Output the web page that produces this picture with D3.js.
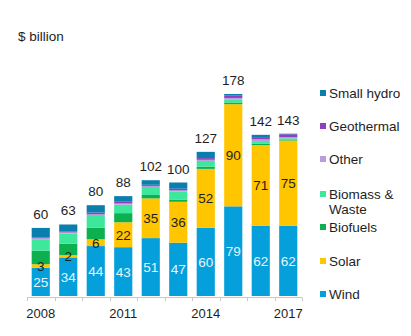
<!DOCTYPE html>
<html>
<head>
<meta charset="utf-8">
<script src="https://cdn.jsdelivr.net/npm/d3@7"></script>
<style>
  body { margin: 0; background: #fff; }
  text { font-family: "Liberation Sans", Arial, sans-serif; fill: #1e1e1e; }
</style>
</head>
<body>
<div class="chart"></div>
<script>
const width = 411;
const height = 336;

const years = ["2008", "2009", "2010", "2011", "2012", "2013", "2014", "2015", "2016", "2017"];
const tickYears = ["2008", "2011", "2014", "2017"];

// $bn per year, bottom of the stack first
const wind       = [25, 34, 44, 43, 51, 47, 60, 79, 62, 62];
const solar      = [3, 2, 6, 22, 35, 36, 52, 90, 71, 75];
const biofuels   = [12, 10, 10, 8, 3, 2, 2, 1.5, 1, 0.5];
const biomass    = [10, 9, 10.5, 7.5, 7, 7, 5, 2.5, 2.5, 1.5];
const other      = [1, 1, 1.5, 1, 1, 1, 1, 1.5, 1.5, 1];
const geothermal = [0.5, 1, 1.5, 2, 1, 1.5, 1.5, 2, 2, 2.5];
const smallHydro = [8.5, 6, 6.5, 4.5, 4, 5.5, 5.5, 1.5, 2, 0.5];
const totals     = [60, 63, 80, 88, 102, 100, 127, 178, 142, 143];

const keys = ["Wind", "Solar", "Biofuels", "Biomass & Waste", "Other", "Geothermal", "Small hydro"];
const series = [wind, solar, biofuels, biomass, other, geothermal, smallHydro];
const colors = ["#059fdc", "#ffc600", "#0cb04f", "#3de89c", "#b79ddc", "#8f3fbf", "#0a7ead"];

const rows = years.map((y, i) => {
  const row = { year: y };
  keys.forEach((k, j) => (row[k] = series[j][i]));
  return row;
});

const svg = d3
  .select(".chart")
  .append("svg")
  .attr("width", width)
  .attr("height", height);

const x = d3.scaleBand().domain(years).range([27, 302]).paddingInner(0.34).paddingOuter(0.17);
const y = d3.scaleLinear().domain([0, 200]).range([296, 69]);
const color = d3.scaleOrdinal().domain(keys).range(colors);

const stacked = d3.stack().keys(keys)(rows);

svg
  .append("text")
  .attr("x", 18)
  .attr("y", 41)
  .style("font-size", "13.5px")
  .text("$ billion");

// stacked bars
svg
  .selectAll("g.layer")
  .data(stacked)
  .enter()
  .append("g")
  .attr("class", "layer")
  .attr("fill", (d) => color(d.key))
  .selectAll("rect")
  .data((d) => d)
  .enter()
  .append("rect")
  .attr("x", (d) => x(d.data.year))
  .attr("width", x.bandwidth())
  .attr("y", (d) => y(d[1]))
  .attr("height", (d) => y(d[0]) - y(d[1]));

// wind values (white) and solar values (dark) inside the bars
svg
  .selectAll("text.wind")
  .data(stacked[0])
  .enter()
  .append("text")
  .attr("x", (d) => x(d.data.year) + x.bandwidth() / 2)
  .attr("y", (d) => (y(d[0]) + y(d[1])) / 2 + 5)
  .attr("text-anchor", "middle")
  .style("font-size", "13.5px")
  .style("fill", "#e8f6fc")
  .text((d) => d.data["Wind"]);

svg
  .selectAll("text.solar")
  .data(stacked[1])
  .enter()
  .append("text")
  .attr("x", (d) => x(d.data.year) + x.bandwidth() / 2)
  .attr("y", (d) => (y(d[0]) + y(d[1])) / 2 + 5)
  .attr("text-anchor", "middle")
  .style("font-size", "13.5px")
  .text((d) => d.data["Solar"]);

// totals above bars
svg
  .selectAll("text.total")
  .data(years)
  .enter()
  .append("text")
  .attr("x", (d) => x(d) + x.bandwidth() / 2)
  .attr("y", (d, i) => y(totals[i]) - 9)
  .attr("text-anchor", "middle")
  .style("font-size", "13.5px")
  .text((d, i) => totals[i]);

// x axis with ticks on band edges
const axis = svg.append("g").attr("stroke", "#c8c8c8").attr("stroke-width", 1);
axis.append("line").attr("x1", 27).attr("x2", 302).attr("y1", 297.5).attr("y2", 297.5);
const edges = years.map((d) => x(d) - (x.step() - x.bandwidth()) / 2).concat([302]);
axis
  .selectAll("line.tick")
  .data(edges)
  .enter()
  .append("line")
  .attr("x1", (d) => Math.round(d) + 0.5)
  .attr("x2", (d) => Math.round(d) + 0.5)
  .attr("y1", 297.5)
  .attr("y2", 301);

svg
  .selectAll("text.year")
  .data(tickYears)
  .enter()
  .append("text")
  .attr("x", (d) => x(d) + x.bandwidth() / 2)
  .attr("y", 318)
  .attr("text-anchor", "middle")
  .style("font-size", "13px")
  .text((d) => d);

// legend, top entry = top of stack
const legendY = { "Small hydro": 93, "Geothermal": 126, "Other": 159, "Biomass & Waste": 194, "Biofuels": 227, "Solar": 261, "Wind": 294 };
const legend = svg
  .selectAll("g.legend")
  .data(keys.slice().reverse())
  .enter()
  .append("g")
  .attr("transform", (d) => `translate(320,${legendY[d]})`);

legend
  .append("rect")
  .attr("x", 0)
  .attr("y", -3)
  .attr("width", 6)
  .attr("height", 6)
  .attr("fill", (d) => color(d));

legend
  .append("text")
  .attr("x", 9)
  .attr("y", 5)
  .style("font-size", "13.5px")
  .each(function (d) {
    const lines = d === "Biomass & Waste" ? ["Biomass &", "Waste"] : [d];
    lines.forEach((l, i) =>
      d3.select(this).append("tspan").attr("x", 9).attr("dy", i ? 14.5 : 0).text(l)
    );
  });
</script>
</body>
</html>
